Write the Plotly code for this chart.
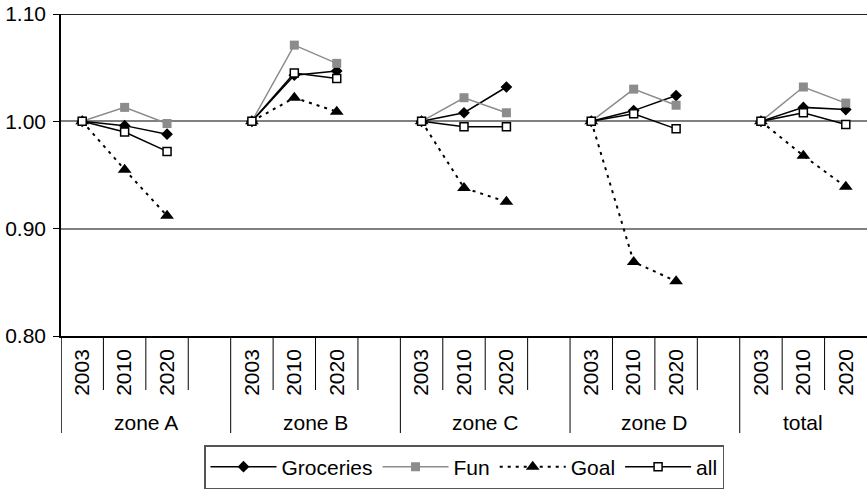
import plotly.graph_objects as go

# ---- data ----
zones = ["zone A", "zone B", "zone C", "zone D", "total"]
years = ["2003", "2010", "2020"]
groceries = [[1.000, 0.996, 0.988], [1.000, 1.043, 1.047], [1.000, 1.008, 1.032],
             [1.000, 1.010, 1.024], [1.000, 1.013, 1.011]]
fun = [[1.000, 1.013, 0.998], [1.000, 1.071, 1.054], [1.000, 1.022, 1.008],
       [1.000, 1.030, 1.015], [1.000, 1.032, 1.017]]
goal = [[1.000, 0.955, 0.912], [1.000, 1.022, 1.009], [1.000, 0.938, 0.925],
        [1.000, 0.869, 0.851], [1.000, 0.968, 0.939]]
all_ = [[1.000, 0.990, 0.972], [1.000, 1.045, 1.040], [1.000, 0.995, 0.995],
        [1.000, 1.007, 0.993], [1.000, 1.008, 0.997]]
y_ticks = [0.80, 0.90, 1.00, 1.10]

FONT = "Liberation Sans, Arial, sans-serif"
FS = 21

# category slots: each zone has its years followed by one empty slot (not after the last)
slot = len(years) + 1
n_cats = slot * (len(zones) - 1) + len(years)


def flat(series):
    xs, ys = [], []
    for g, vals in enumerate(series):
        for k, v in enumerate(vals):
            xs.append(g * slot + k)
            ys.append(v)
        if g < len(series) - 1:
            xs.append(g * slot + len(years))
            ys.append(None)
    return xs, ys


fig = go.Figure()

styles = [
    ("Groceries", groceries, dict(color="black", width=1.5), dict(symbol="diamond", size=9, color="black")),
    ("Fun", fun, dict(color="#8c8c8c", width=1.5), dict(symbol="square", size=9, color="#8c8c8c")),
    ("Goal", goal, dict(color="black", width=2, dash="3px,5px"), dict(symbol="triangle-up", size=12, color="black")),
    ("all", all_, dict(color="black", width=1.5),
     dict(symbol="square", size=8, color="white", line=dict(color="black", width=1.5))),
]
for name, data, line, marker in styles:
    xs, ys = flat(data)
    fig.add_trace(go.Scatter(x=xs, y=ys, name=name, mode="lines+markers",
                             line=line, marker=marker, connectgaps=False,
                             cliponaxis=False))

# tick labels for years
tickvals, ticktext = [], []
for g in range(len(zones)):
    for k, yr in enumerate(years):
        tickvals.append(g * slot + k)
        ticktext.append(yr)

shapes = []
plot_h = 322.0
short_y = -54 / plot_h
long_y = -97 / plot_h
# separators
for g in range(len(zones)):
    start = g * slot - 0.5
    for k in range(1, slot):
        xv = start + k
        if xv < n_cats - 0.5:
            shapes.append(dict(type="line", xref="x", yref="paper", x0=xv, x1=xv, y0=0, y1=short_y,
                               line=dict(color="black", width=1)))
    shapes.append(dict(type="line", xref="x", yref="paper", x0=start, x1=start, y0=0, y1=long_y,
                       line=dict(color="black", width=1.5 if g == 0 else 1)))
# horizontal reference lines
shapes.append(dict(type="line", xref="paper", yref="y", x0=0, x1=1, y0=1.00, y1=1.00,
                   line=dict(color="black", width=1), layer="below"))
shapes.append(dict(type="line", xref="paper", yref="y", x0=0, x1=1, y0=1.10, y1=1.10,
                   line=dict(color="#222222", width=2)))

annotations = []
for g, z in enumerate(zones):
    ncat = slot if g < len(zones) - 1 else len(years)
    start = g * slot - 0.5
    annotations.append(dict(x=start + ncat / 2, y=-86 / plot_h, xref="x", yref="paper",
                            text=z, showarrow=False, yanchor="middle", xanchor="center",
                            font=dict(family=FONT, size=FS, color="black")))

fig.update_layout(
    width=867, height=489,
    margin=dict(l=61, r=0, t=14, b=153, autoexpand=False),
    plot_bgcolor="white", paper_bgcolor="white",
    font=dict(family=FONT, size=FS, color="black"),
    showlegend=True,
    legend=dict(orientation="h", x=0.5, xanchor="center", y=-109 / plot_h, yanchor="top",
                bordercolor="#555555", borderwidth=1.5, font=dict(family=FONT, size=FS),
                itemwidth=66, traceorder="normal", tracegroupgap=0),
    shapes=shapes, annotations=annotations,
    xaxis=dict(range=[-0.5, n_cats - 0.5], tickmode="array", tickvals=tickvals, ticktext=ticktext,
               tickangle=-90, showgrid=False, zeroline=False, showline=True, linecolor="black",
               linewidth=1.5, ticks="", ticklabelstandoff=3, automargin=False,
               tickfont=dict(family=FONT, size=FS, color="black")),
    yaxis=dict(range=[0.80, 1.10], tickmode="array", tickvals=y_ticks, tickformat=".2f",
               showgrid=True, gridcolor="#808080", gridwidth=1.5, zeroline=False, automargin=False,
               showline=True, linecolor="black", linewidth=1.5, ticks="outside", ticklen=6,
               ticklabelstandoff=3, ticklabeloverflow="allow",
               tickcolor="black", tickfont=dict(family=FONT, size=FS, color="black")),
)

# remove the browser's default 8px page margin so the figure fills the window exactly
fig.write_html("out.html", config={"displayModeBar": False},
               post_script="document.body.style.margin='0';document.body.style.overflow='hidden';")
